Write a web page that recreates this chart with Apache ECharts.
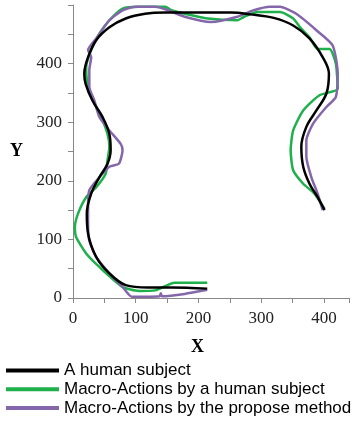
<!DOCTYPE html>
<html>
<head>
<meta charset="utf-8">
<script src="https://cdn.jsdelivr.net/npm/echarts@6/dist/echarts.min.js"></script>
<style>html,body{margin:0;padding:0;background:#fff}#c{width:352px;height:421px}</style>
</head>
<body>
<div id="c"></div>
<script>
const seriesNames = ['A human subject', 'Macro-Actions by a human subject', 'Macro-Actions by the propose method'];
const humanPath = [[214,16],[157,18],[120,18],[84,22],[58,42],[37,70],[24,110],[22,144],[29,178],[42,206],[55,229],[60,252],[58,280],[47,309],[31,337],[20,366],[18,383],[24,411],[37,440],[58,462],[84,477],[115,485],[147,487],[199,487],[252,487],[283,484],[320,478],[351,465],[377,443],[398,411],[408,383],[404,349],[388,320],[372,292],[364,258],[367,224],[377,195],[390,172],[401,150]];
const macroHumanPath = [[214,26],[162,26],[131,13],[105,12],[79,19],[42,53],[21,76],[5,104],[3,121],[8,144],[21,172],[37,189],[52,212],[55,235],[58,258],[55,280],[45,309],[34,332],[24,360],[21,394],[29,423],[42,451],[58,474],[79,494],[105,497],[147,497],[157,491],[178,485],[215,477],[262,474],[273,480],[294,488],[330,488],[351,477],[362,462],[377,445],[390,425],[409,425],[419,400],[422,357],[393,346],[367,320],[351,286],[347,252],[351,218],[367,195],[385,178],[401,152]];
const proposedPath = [[214,14],[178,7],[142,3],[140,8],[138,3],[94,2],[79,19],[58,42],[37,70],[26,98],[24,126],[24,155],[26,184],[42,206],[58,224],[73,229],[79,252],[76,263],[58,286],[42,309],[34,337],[26,360],[26,389],[29,411],[24,423],[37,443],[58,474],[79,491],[100,497],[131,497],[152,491],[178,480],[220,471],[262,480],[288,491],[314,497],[330,497],[356,485],[388,457],[414,431],[422,383],[419,343],[404,326],[383,298],[372,269],[372,241],[380,206],[390,178],[398,150]];
const xTicks = [0,100,200,300,400];
const yTicks = [0,100,200,300,400];
const colors = ['#000000', '#1db04b', '#8466aa'];

const chart = echarts.init(document.getElementById('c'), null, {renderer: 'canvas'});
const serif = "'Liberation Serif', 'Times New Roman', serif";
const mk = (name, data, color, smooth) => ({
  name, type: 'line', data, showSymbol: false, symbol: 'none', smooth,
  lineStyle: {color, width: 2.5}, itemStyle: {color}, animation: false, z: 2
});
chart.setOption({
  animation: false,
  grid: {left: 73, right: 0, top: 5, bottom: 123, containLabel: false},
  xAxis: {
    type: 'value', min: 0, max: 440, interval: 50,
    axisLine: {show: true, lineStyle: {color: '#888', width: 1}},
    axisTick: {show: true, inside: false, length: 5, lineStyle: {color: '#888'}},
    splitLine: {show: false},
    axisLabel: {margin: 12, fontFamily: serif, fontSize: 17, color: '#222',
      formatter: v => xTicks.includes(v) ? String(v) : ''}
  },
  yAxis: {
    type: 'value', min: 0, max: 500, interval: 50,
    axisLine: {show: true, lineStyle: {color: '#888', width: 1}},
    axisTick: {show: true, inside: false, length: 5, lineStyle: {color: '#888'}},
    splitLine: {show: false},
    axisLabel: {margin: 11, fontFamily: serif, fontSize: 17, color: '#222',
      formatter: v => yTicks.includes(v) ? String(v) : ''}
  },
  legend: {
    orient: 'vertical', left: 6, top: 362, width: 346, height: 80, padding: 0,
    itemWidth: 53, itemHeight: 4, itemGap: 1.8,
    icon: 'rect', selectedMode: false,
    data: seriesNames,
    textStyle: {fontFamily: "'Liberation Sans', Arial, sans-serif", fontSize: 17, color: '#000', lineHeight: 17, padding: [0,0,0,0]}
  },
  graphic: [
    {type: 'text', left: 10, top: 142, style: {text: 'Y', font: "bold 18px 'Liberation Serif', serif", fill: '#000'}},
    {type: 'text', left: 191, top: 338, style: {text: 'X', font: "bold 18px 'Liberation Serif', serif", fill: '#000'}}
  ],
  series: [
    mk(seriesNames[1], macroHumanPath, colors[1], 0.2),
    mk(seriesNames[2], proposedPath, colors[2], 0.2),
    mk(seriesNames[0], humanPath, colors[0], 0.35)
  ]
});
</script>
</body>
</html>
